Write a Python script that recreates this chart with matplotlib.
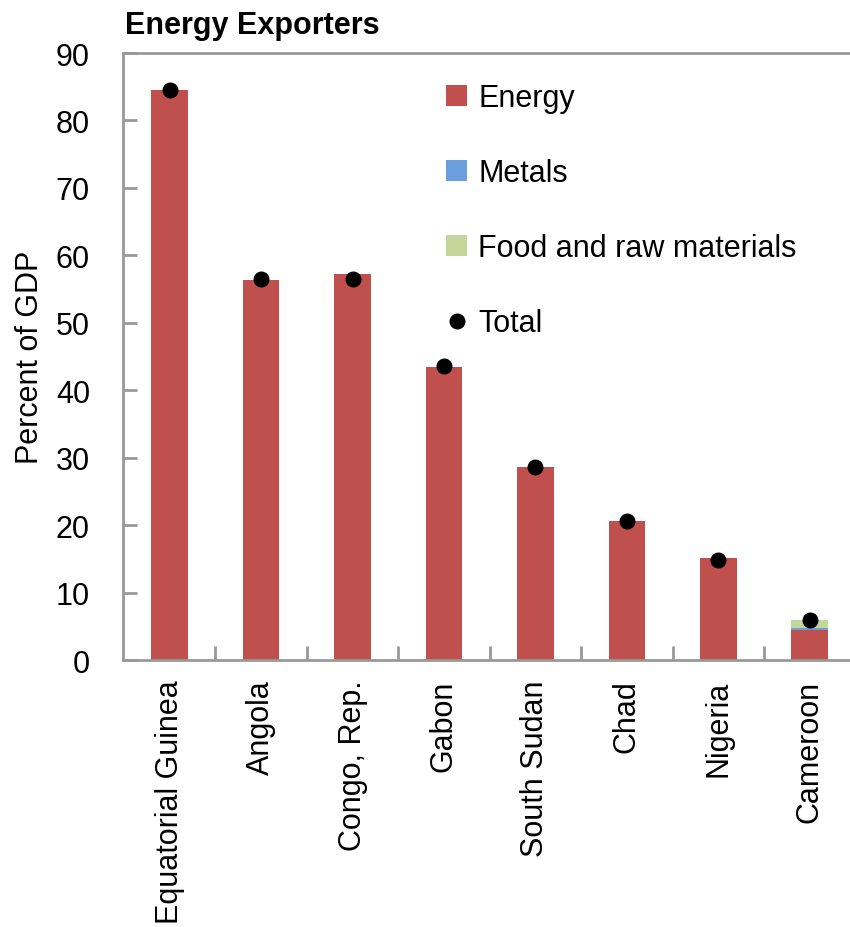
import matplotlib.pyplot as plt
import numpy as np

plt.rcParams['font.family'] = ['Liberation Sans', 'DejaVu Sans']

countries = ['Equatorial Guinea', 'Angola', 'Congo, Rep.', 'Gabon', 'South Sudan',
             'Chad', 'Nigeria', 'Cameroon']
energy = [84.5, 56.3, 57.2, 43.4, 28.6, 20.6, 15.1, 4.45]
metals = [0.0, 0.0, 0.0, 0.0, 0.0, 0.0, 0.0, 0.3]
food = [0.0, 0.0, -0.4, 0.0, 0.0, 0.0, -0.3, 1.2]
total = [84.5, 56.5, 56.5, 43.6, 28.6, 20.6, 14.8, 5.9]

c_energy = '#C0504D'
c_metals = '#6A9EDC'
c_food = '#C4D79B'
grey = '#999999'
fs = 22

fig = plt.figure(figsize=(8.5, 9.28), dpi=100)
ax = fig.add_axes([0.145, 0.2877, 0.855, 0.6541])

x = np.arange(len(countries))
w = 0.4
energy = np.array(energy)
metals = np.array(metals)
food = np.array(food)

# stack positives upward, negatives downward
pos_base = np.zeros(len(x))
neg_base = np.zeros(len(x))
for vals, col, lab in [(energy, c_energy, 'Energy'), (metals, c_metals, 'Metals'),
                       (food, c_food, 'Food and raw materials')]:
    base = np.where(vals >= 0, pos_base, neg_base)
    ax.bar(x, vals, w, bottom=base, color=col, label=lab, zorder=2)
    pos_base = pos_base + np.where(vals > 0, vals, 0)
    neg_base = neg_base + np.where(vals < 0, vals, 0)

ax.plot(x, total, 'o', color='black', markersize=10.5, label='Total', zorder=3)

ax.set_xlim(-0.507, 7.44)
ax.set_ylim(0, 90)
ax.set_yticks(range(0, 91, 10))
ax.tick_params(axis='y', direction='in', length=10, width=2, color=grey,
               labelsize=fs, pad=24)
ax.set_xticks(x)
ax.set_xticklabels(countries, rotation=90, fontsize=fs)
ax.tick_params(axis='x', length=0, pad=14)
ax.set_xticks(np.arange(0.5, 7.5, 1), minor=True)
ax.tick_params(axis='x', which='minor', direction='in', length=10, width=2, color=grey)

for s in ['left', 'bottom', 'top']:
    ax.spines[s].set_color(grey)
    ax.spines[s].set_linewidth(2)
ax.spines['right'].set_visible(False)

ax.set_ylabel('Percent of GDP', fontsize=fs, labelpad=8)
fig.text(0.147, 0.956, 'Energy Exporters', fontsize=fs, fontweight='bold', ha='left', va='bottom')

h, l = ax.get_legend_handles_labels()
order = [1, 2, 3, 0]
ax.legend([h[i] for i in order], [l[i] for i in order],
          loc='upper left', bbox_to_anchor=(0.423, 0.975), frameon=False, fontsize=fs,
          labelspacing=1.47, handlelength=0.7, handleheight=0.7, handletextpad=0.35,
          borderpad=0)

fig.savefig('out.png', dpi=100)
